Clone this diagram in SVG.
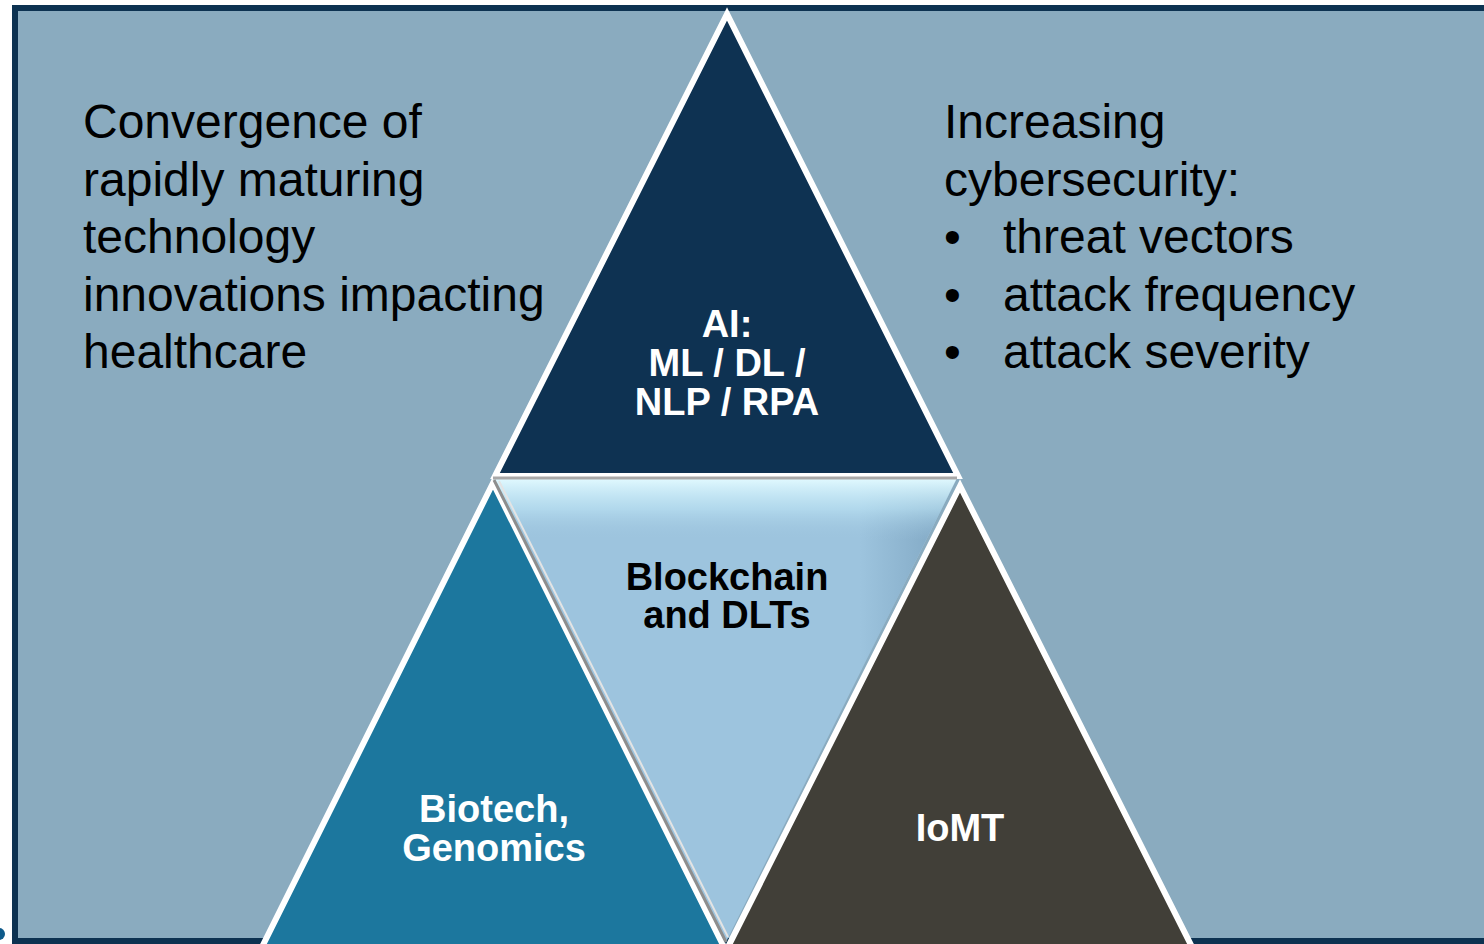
<svg xmlns="http://www.w3.org/2000/svg" width="1484" height="944" viewBox="0 0 1484 944">
  <defs>
    <style>
      .body { font-family: "Liberation Sans", Arial, sans-serif; font-size: 48px; fill: #000; }
      .lbl { font-family: "Liberation Sans", Arial, sans-serif; font-size: 38px; font-weight: bold; text-anchor: middle; }
      .w { fill: #fff; }
      .k { fill: #000; }
      .tri { stroke: #fff; stroke-width: 6; stroke-linejoin: miter; }
    </style>
    <linearGradient id="topHi" x1="0" y1="478" x2="0" y2="540" gradientUnits="userSpaceOnUse">
      <stop offset="0" stop-color="#E2FAFF" stop-opacity="1"/>
      <stop offset="0.5" stop-color="#BFE6F6" stop-opacity="0.6"/>
      <stop offset="1" stop-color="#9DC4DE" stop-opacity="0"/>
    </linearGradient>
    <linearGradient id="rightShade" x1="860" y1="0" x2="940" y2="0" gradientUnits="userSpaceOnUse">
      <stop offset="0" stop-color="#7FA6C2" stop-opacity="0"/>
      <stop offset="1" stop-color="#7FA6C2" stop-opacity="0.9"/>
    </linearGradient>
    <clipPath id="midClip">
      <polygon points="493,478 957,478 726,942"/>
    </clipPath>
  </defs>

  <rect x="15" y="8" width="1480" height="933" fill="#8AABBF" stroke="#0D3251" stroke-width="6"/>
  <circle cx="-1" cy="934" r="6" fill="#0E5A8A"/>

  <g id="text-left" class="body">
    <text x="83" y="138">Convergence of</text>
    <text x="83" y="196">rapidly maturing</text>
    <text x="83" y="253">technology</text>
    <text x="83" y="311">innovations impacting</text>
    <text x="83" y="368">healthcare</text>
  </g>

  <g id="text-right" class="body">
    <text x="944" y="138">Increasing</text>
    <text x="944" y="196">cybersecurity:</text>
    <text x="944" y="253">•</text>
    <text x="1003" y="253">threat vectors</text>
    <text x="944" y="311">•</text>
    <text x="1003" y="311">attack frequency</text>
    <text x="944" y="368">•</text>
    <text x="1003" y="368">attack severity</text>
  </g>

  <g id="node-ai">
    <polygon class="tri" points="727,14 495,476 958,476" fill="#0E3252"/>
    <text class="lbl w" x="727" y="337">AI:</text>
    <text class="lbl w" x="727" y="376">ML / DL /</text>
    <text class="lbl w" x="727" y="415">NLP / RPA</text>
  </g>

  <g id="node-biotech">
    <polygon class="tri" points="493,483 262,947 724,947" fill="#1C779E"/>
    <text class="lbl w" x="494" y="822">Biotech,</text>
    <text class="lbl w" x="494" y="861">Genomics</text>
  </g>

  <g id="node-iomt">
    <polygon class="tri" points="960,486 728,947 1192,947" fill="#413F38"/>
    <text class="lbl w" x="960" y="841">IoMT</text>
  </g>

  <g id="node-blockchain">
    <polygon points="493,478 957,478 726,942" fill="#9DC4DE"/>
    <g clip-path="url(#midClip)">
      <polygon points="700,478 957,478 726,942" fill="url(#rightShade)"/>
      <rect x="490" y="478" width="470" height="70" fill="url(#topHi)"/>
    </g>
    <line x1="493" y1="478" x2="957" y2="478" stroke="#A8A8A8" stroke-width="3"/>
    <line x1="494" y1="480" x2="726" y2="942" stroke="#8E8E8E" stroke-width="3"/>
    <line x1="499" y1="481" x2="728" y2="937" stroke="#E4E4E4" stroke-width="2"/>
    <text class="lbl k" x="727" y="590">Blockchain</text>
    <text class="lbl k" x="727" y="628">and DLTs</text>
  </g>

  <g id="connectors"/>
</svg>
